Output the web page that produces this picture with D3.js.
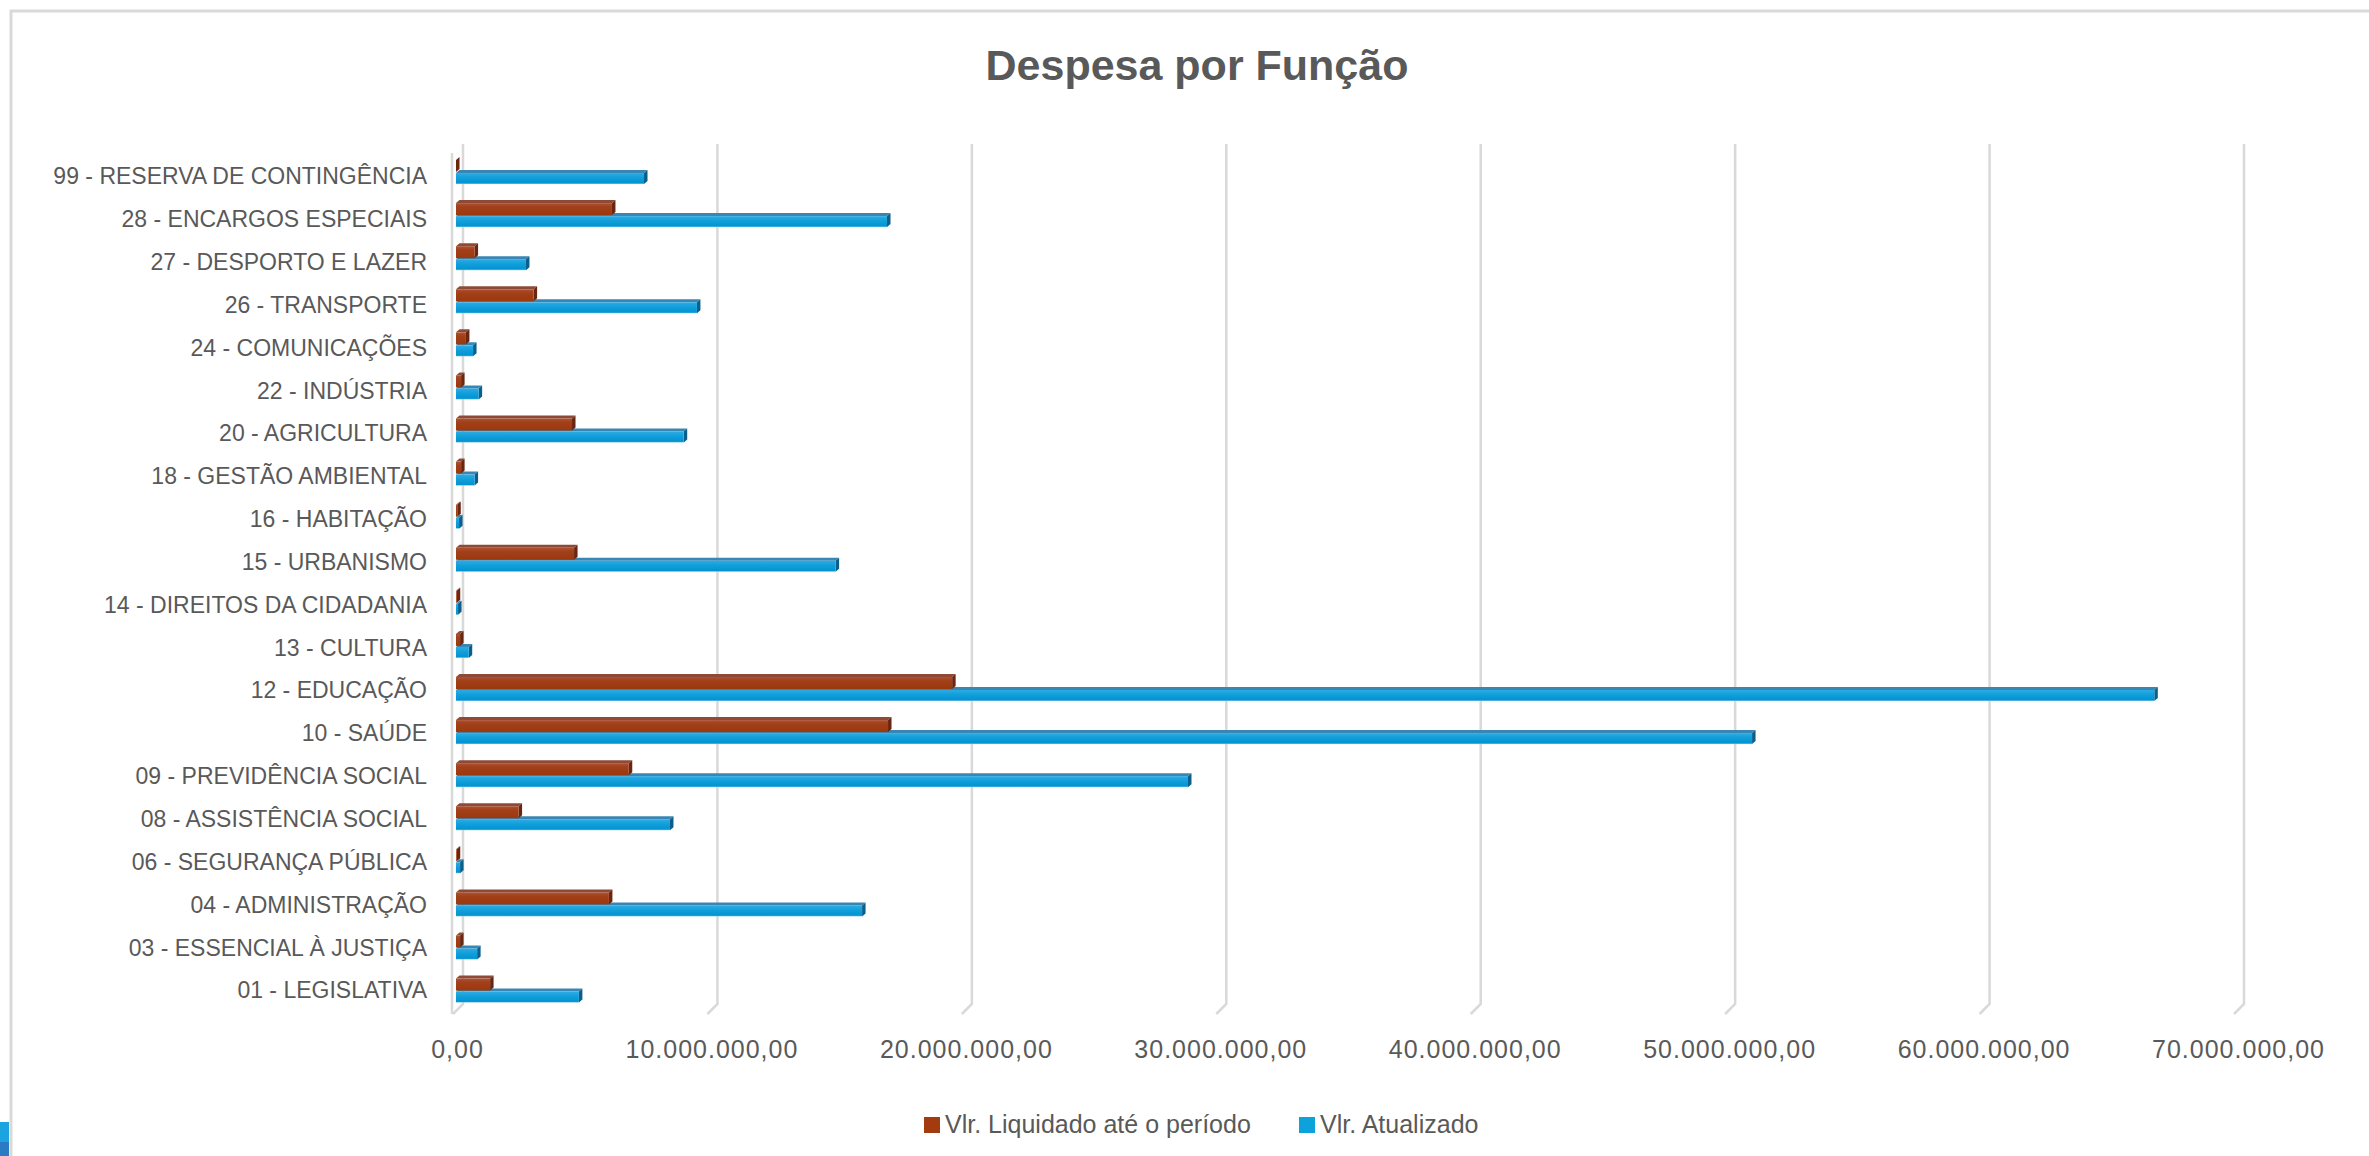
<!DOCTYPE html>
<html>
<head>
<meta charset="utf-8">
<script src="https://cdn.jsdelivr.net/npm/d3@7"></script>
<style>
  html, body { margin: 0; padding: 0; background: #fff; }
  svg text { font-family: "Liberation Sans", Arial, sans-serif; fill: #595959; }
</style>
</head>
<body>
<svg id="chart"></svg>
<script>
// categories, top to bottom as drawn
const categories = [
  '99 - RESERVA DE CONTINGÊNCIA', '28 - ENCARGOS ESPECIAIS', '27 - DESPORTO E LAZER',
  '26 - TRANSPORTE', '24 - COMUNICAÇÕES', '22 - INDÚSTRIA', '20 - AGRICULTURA',
  '18 - GESTÃO AMBIENTAL', '16 - HABITAÇÃO', '15 - URBANISMO', '14 - DIREITOS DA CIDADANIA',
  '13 - CULTURA', '12 - EDUCAÇÃO', '10 - SAÚDE', '09 - PREVIDÊNCIA SOCIAL',
  '08 - ASSISTÊNCIA SOCIAL', '06 - SEGURANÇA PÚBLICA', '04 - ADMINISTRAÇÃO',
  '03 - ESSENCIAL À JUSTIÇA', '01 - LEGISLATIVA'
];
const liquidado = [
  0, 6130000, 730000, 3050000, 390000, 200000, 4560000,
  200000, 50000, 4640000, 30000, 160000, 19500000, 16980000, 6790000,
  2460000, 30000, 6010000, 160000, 1340000
];
const atualizado = [
  7390000, 16940000, 2750000, 9470000, 670000, 890000, 8950000,
  730000, 120000, 14920000, 80000, 500000, 66750000, 50940000, 28770000,
  8410000, 160000, 15960000, 830000, 4830000
];
const tickValues = [0, 10000000, 20000000, 30000000, 40000000, 50000000, 60000000, 70000000];
const seriesNames = ['Vlr. Liquidado até o período', 'Vlr. Atualizado'];

const width = 2369, height = 1156;
const svg = d3.select('#chart').attr('width', width).attr('height', height);

const locale = d3.formatLocale({ decimal: ',', thousands: '.', grouping: [3], currency: ['R$', ''] });
const fmt = locale.format(',.2f');

// frame
svg.append('rect').attr('x', 11).attr('y', 11).attr('width', width + 20).attr('height', height + 20)
   .attr('fill', '#fff').attr('stroke', '#d9d9d9').attr('stroke-width', 3);
svg.append('rect').attr('x', 0).attr('y', 1122).attr('width', 9).attr('height', 20).attr('fill', '#1ca4e1');
svg.append('rect').attr('x', 0).attr('y', 1142).attr('width', 9).attr('height', 14).attr('fill', '#2b7bc4');

const defs = svg.append('defs');
const grad = (id, stops) => {
  const g = defs.append('linearGradient').attr('id', id).attr('x1', 0).attr('y1', 0).attr('x2', 0).attr('y2', 1);
  stops.forEach(([o, c]) => g.append('stop').attr('offset', o).attr('stop-color', c));
};
grad('brownFront', [[0, '#ad5234'], [0.3, '#a2401a'], [1, '#9b380c']]);
grad('blueFront', [[0, '#2eabe2'], [0.4, '#12a0dc'], [0.9, '#0493d1'], [1, '#7fc9ec']]);

const colors = {
  liq: { front: 'url(#brownFront)', top: '#8e4a36', side: '#6a2610', legend: '#a23b10' },
  atu: { front: 'url(#blueFront)', top: '#3a86b3', side: '#0d5f8b', legend: '#0ea2dd' }
};

// scales: back wall, front of bars, floor edge
const xBack = d3.scaleLinear().domain([0, 70000000]).range([463, 2244]);
const xFront = d3.scaleLinear().domain([0, 70000000]).range([456, 2237]);
const xFloor = d3.scaleLinear().domain([0, 70000000]).range([453, 2234]);
const yLabel = d3.scaleBand().domain(categories).range([155.6, 1012.4]);
const yBar = d3.scaleBand().domain(categories).range([157, 1018.6]);

const gridTop = 144, gridBottom = 1004, floorFront = 1014;

// walls / gridlines
const grid = svg.append('g').attr('stroke', '#d9d9d9').attr('stroke-width', 2.5).attr('fill', 'none');
grid.append('path').attr('d', `M${xFloor(0) - 1},${gridTop + 9}L${xFloor(0) - 1},${floorFront}`);
grid.selectAll('path.gl').data(tickValues).enter().append('path').attr('class', 'gl')
    .attr('d', d => `M${xBack(d)},${gridTop}L${xBack(d)},${gridBottom}L${xBack(d) - 10},${floorFront}`);

// category axis
const yAxis = svg.append('g').attr('transform', 'translate(427,0)')
  .call(d3.axisLeft(yLabel).tickSize(0).tickPadding(0));
yAxis.select('.domain').remove();
yAxis.selectAll('text').style('font-size', '23px').style('font-family', '"Liberation Sans", Arial, sans-serif').attr('fill', '#595959');

// value axis
const xAxis = svg.append('g').attr('transform', 'translate(4,1040)')
  .call(d3.axisBottom(xFloor).tickValues(tickValues).tickFormat(fmt).tickSize(0).tickPadding(0));
xAxis.select('.domain').remove();
xAxis.selectAll('text').style('font-size', '25px').style('letter-spacing', '1px')
  .style('font-family', '"Liberation Sans", Arial, sans-serif').attr('fill', '#595959');

// 3D bars
const dx = 3.5, dy = -3;
function bar3d(g, x0, x1, y0, y1, c) {
  g.append('path').attr('fill', c.top)
   .attr('d', `M${x0},${y0}L${x1},${y0}L${x1 + dx},${y0 + dy}L${x0 + dx},${y0 + dy}Z`);
  g.append('path').attr('fill', c.side)
   .attr('d', `M${x1},${y0}L${x1 + dx},${y0 + dy}L${x1 + dx},${y1 + dy}L${x1},${y1}Z`);
  g.append('rect').attr('x', x0).attr('y', y0).attr('width', Math.max(0, x1 - x0)).attr('height', y1 - y0)
   .attr('fill', c.front);
}

const bars = svg.append('g');
categories.forEach((cat, i) => {
  const c = yBar(cat) + yBar.bandwidth() / 2;
  const g = bars.append('g');
  bar3d(g, xFront(0), xFront(atualizado[i]), c - 5.5, c + 5.5, colors.atu);
  bar3d(g, xFront(0), xFront(liquidado[i]), c - 18.5, c - 6.5, colors.liq);
});

// title
svg.append('text').attr('x', 1197).attr('y', 80).attr('text-anchor', 'middle')
   .style('font-size', '43px').style('font-weight', 'bold').text('Despesa por Função');

// legend
const legendItems = [
  { name: seriesNames[0], color: colors.liq.legend, x: 924 },
  { name: seriesNames[1], color: colors.atu.legend, x: 1299 }
];
const legend = svg.append('g');
legend.selectAll('rect').data(legendItems).enter().append('rect')
  .attr('x', d => d.x).attr('y', 1117).attr('width', 16).attr('height', 16).attr('fill', d => d.color);
legend.selectAll('text').data(legendItems).enter().append('text')
  .attr('x', d => d.x + 21).attr('y', 1133).style('font-size', '25px').text(d => d.name);
</script>
</body>
</html>
